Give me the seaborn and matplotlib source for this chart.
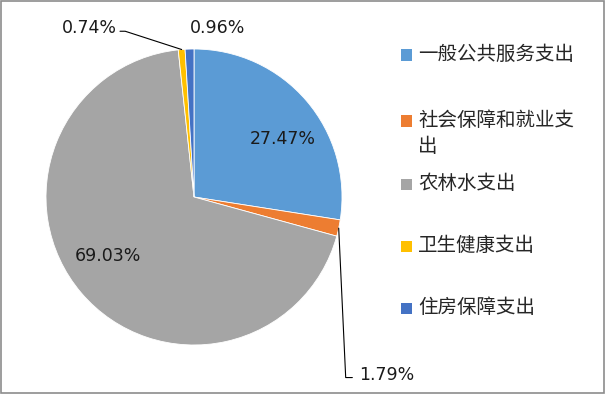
import numpy as np
import seaborn as sns
import matplotlib.pyplot as plt
from matplotlib.patches import Rectangle

# data
categories = ["一般公共服务支出", "社会保障和就业支出", "农林水支出", "卫生健康支出", "住房保障支出"]
legend_labels = ["一般公共服务支出", "社会保障和就业支\n出", "农林水支出", "卫生健康支出", "住房保障支出"]
shares = [27.47, 1.79, 69.03, 0.74, 0.96]
pct_labels = ["27.47%", "1.79%", "69.03%", "0.74%", "0.96%"]
colors = ["#5B9BD5", "#ED7D31", "#A5A5A5", "#FFC000", "#4472C4"]

sns.set_theme(style="white")
plt.rcParams['font.family'] = ['Noto Sans CJK SC', 'DejaVu Sans']

W, H = 606, 394
fig = plt.figure(figsize=(W / 100, H / 100), dpi=100)

# pie centre / radius in pixels
cx, cy, r = 194, 197, 148
ax = fig.add_axes([(cx - r) / W, (H - cy - r) / H, 2 * r / W, 2 * r / H])

wedges, _ = ax.pie(shares, colors=colors, startangle=90, counterclock=False,
                   radius=1, wedgeprops=dict(linewidth=0.6, edgecolor="white"))
ax.set_xlim(-1, 1)
ax.set_ylim(-1, 1)
ax.axis("off")

# label placement (data coords), leader anchor taken from each wedge
label_pos = [(0.60, 0.39), (1.30, -1.20), (-0.58, -0.40), (-0.71, 1.14), (0.16, 1.14)]
leaders = {1: "right", 3: "left"}
for i, (w, txt) in enumerate(zip(wedges, pct_labels)):
    tx, ty = label_pos[i]
    ax.text(tx, ty, txt, ha="center", va="center", fontsize=12.5,
            family=["DejaVu Sans"], color="#1a1a1a", clip_on=False)
    if i in leaders:
        mid = np.deg2rad((w.theta1 + w.theta2) / 2)
        ex, ey = np.cos(mid), np.sin(mid)
        if i == 1:
            xs = [ex, 1.025, 1.07]
            ys = [ey, -1.22, -1.22]
        else:
            xs = [ex, -0.465, -0.50]
            ys = [ey, 1.12, 1.12]
        ax.plot(xs, ys, color="black", linewidth=0.8, clip_on=False)

# legend, drawn item by item
leg_y = [55, 121, 184, 246, 308]
for lab, col, y in zip(legend_labels, colors, leg_y):
    fig.add_artist(Rectangle((401 / W, 1 - (y + 5.5) / H), 11 / W, 11 / H,
                             transform=fig.transFigure, facecolor=col, edgecolor="none"))
    fig.text(418 / W, 1 - (y - 11) / H, lab, ha="left", va="top",
             fontsize=14, color="#262626", linespacing=1.3)

# outer frame
fig.add_artist(Rectangle((0.5 / W, 1.5 / H), (W - 2.5) / W, (H - 2.5) / H,
                         transform=fig.transFigure, fill=False,
                         edgecolor="#8c8c8c", linewidth=1.2))

fig.savefig("out.png", dpi=100)
plt.close(fig)
